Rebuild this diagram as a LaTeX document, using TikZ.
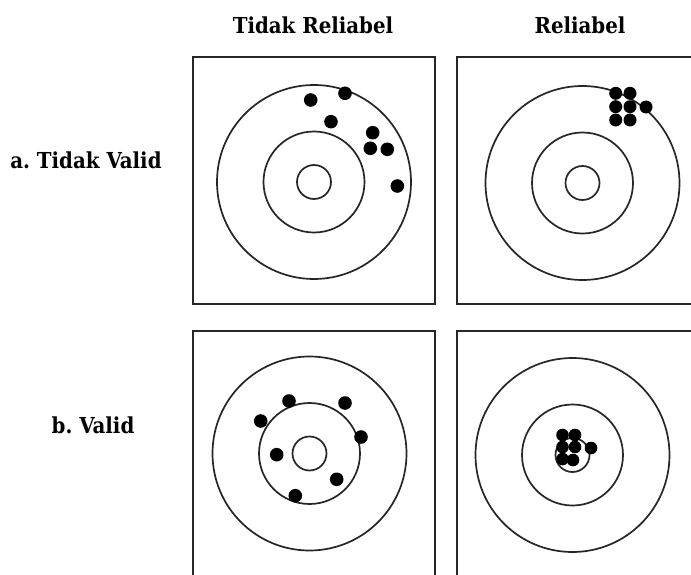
\documentclass[tikz,border=0pt]{standalone}
\usepackage{fontspec}
\setmainfont{DejaVu Serif Condensed}
\begin{document}
\begin{tikzpicture}[x=1pt,y=-1pt,
  panel/.style={draw=black!85,line width=2.4pt},
  ring/.style={draw=black!85,line width=1.7pt},
  hit/.style={fill=black},
  lbl/.style={font=\fontsize{22}{26}\selectfont\bfseries,inner sep=0pt}]
\useasboundingbox (0,0) rectangle (691,575);
\clip (0,0) rectangle (691,575);
\fill[white] (0,0) rectangle (691,575);
% headers
\node[lbl] (h1) at (313,25) {Tidak Reliabel};
\node[lbl] (h2) at (580,25) {Reliabel};
\node[lbl] (r1) at (86,160) {a.\ Tidak Valid};
\node[lbl] (r2) at (93,425) {b.\ Valid};
% panels
\draw[panel] (193,57) rectangle (435,304);
\draw[panel] (457,57) rectangle (700,304);
\draw[panel] (193,331) rectangle (435,590);
\draw[panel] (457,331) rectangle (700,590);
% targets
\foreach \cx/\cy in {314/182, 582.5/183, 309.5/453.5, 572.5/455}{
  \draw[ring] (\cx,\cy) circle (97);
  \draw[ring] (\cx,\cy) circle (50.5);
  \draw[ring] (\cx,\cy) circle (17);
}
% top-left hits
\foreach \x/\y in {310.7/100, 345/93.3, 331/121.7, 372.7/132.7, 370.3/148.3, 387.3/149.3, 397.3/186}
  \fill[hit] (\x,\y) circle (6.8);
% top-right hits
\foreach \x/\y in {615.7/93.3, 630/93.3, 615.7/106.7, 630/106.7, 615.7/120, 630/120, 646/107}
  \fill[hit] (\x,\y) circle (6.5);
% bottom-left hits
\foreach \x/\y in {289/401, 345/403, 260.7/421, 361/437, 276.7/454.7, 336.7/479.3, 295.3/495.7}
  \fill[hit] (\x,\y) circle (6.8);
% bottom-right hits
\foreach \x/\y in {562.5/435, 575/435, 562.5/447, 575/447, 562.5/459, 573/460, 591/448}
  \fill[hit] (\x,\y) circle (6.3);
\end{tikzpicture}
\end{document}
